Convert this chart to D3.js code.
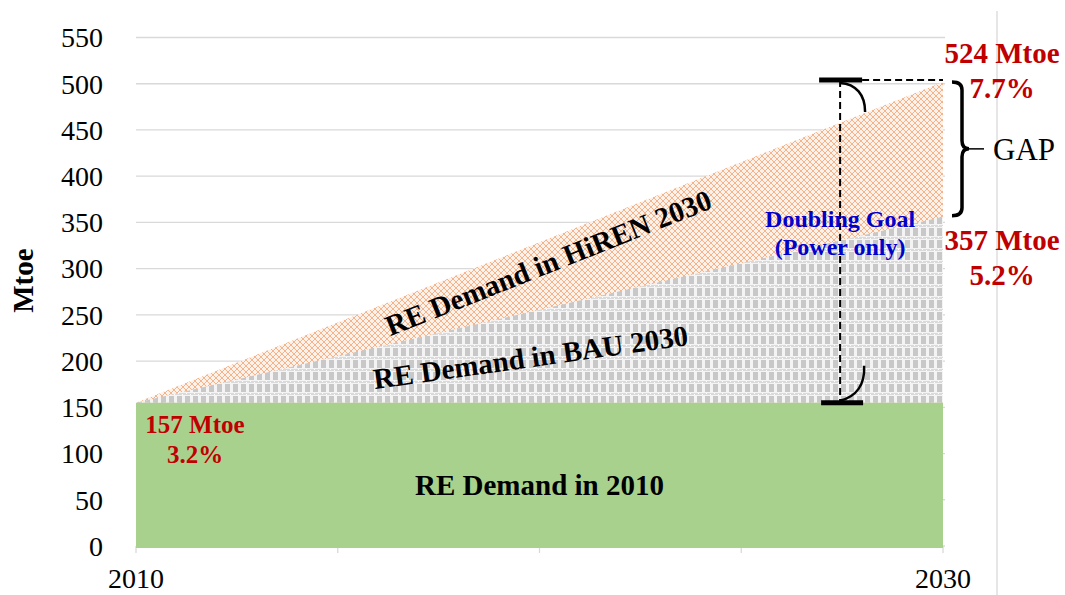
<!DOCTYPE html>
<html>
<head>
<meta charset="utf-8">
<script src="https://cdn.jsdelivr.net/npm/d3@7"></script>
<style>
    body { margin: 0; background: #fff; }
    svg { display: block; font-family: "Liberation Serif", "Times New Roman", serif; }
</style>
</head>
<body>
<div id="d3AreaChart"></div>
<script>
const _WIDTH = 1065
const _HEIGHT = 595
const _MARGIN = {
    top: 37.5,
    left: 136,
    bottom: 49,
    right: 122,
}

// data
const years = [2010, 2030]
const demand2010 = [155, 155]
const demandBAU = [155, 356]
const demandHiREN = [155, 502]
const yTicks = [0, 50, 100, 150, 200, 250, 300, 350, 400, 450, 500, 550]
const xTicks = [2010, 2015, 2020, 2025, 2030]
const xLabels = [2010, 2030]
const doublingYear = 2027.45

const rows = years.map((y, i) => ({ year: y, base: demand2010[i], bau: demandBAU[i], hiren: demandHiREN[i] }))

const svg = d3
    .select("#d3AreaChart")
    .append("svg")
    .attr("width", _WIDTH)
    .attr("height", _HEIGHT)

const xScale = d3.scaleLinear().domain([2010, 2030]).range([_MARGIN.left, _WIDTH - _MARGIN.right])
const yScale = d3.scaleLinear().domain([0, 550]).range([_HEIGHT - _MARGIN.bottom, _MARGIN.top])

//  Patterns
// ===================================
const defs = svg.append("defs")
const orange = defs.append("pattern")
    .attr("id", "pat-orange")
    .attr("patternUnits", "userSpaceOnUse")
    .attr("width", 6)
    .attr("height", 6)
orange.append("rect").attr("width", 6).attr("height", 6).attr("fill", "#fdf2ea")
orange.append("path")
    .attr("d", "M0,0 L6,6 M6,0 L0,6")
    .attr("stroke", "#f5b38c")
    .attr("stroke-width", 1)
const gray = defs.append("pattern")
    .attr("id", "pat-gray")
    .attr("patternUnits", "userSpaceOnUse")
    .attr("width", 8)
    .attr("height", 12)
gray.append("rect").attr("width", 8).attr("height", 12).attr("fill", "#f4f4f4")
gray.append("rect").attr("x", 1).attr("width", 5).attr("height", 8).attr("fill", "#c8c8c8")
gray.append("rect").attr("y", 9).attr("width", 8).attr("height", 2).attr("fill", "#dadada")
gray.append("rect").attr("x", 2).attr("y", 9).attr("width", 1).attr("height", 1).attr("fill", "#ffffff")
gray.append("rect").attr("x", 6).attr("y", 10).attr("width", 1).attr("height", 1).attr("fill", "#ffffff")

//  Grid & axes
// ===================================
svg.append("g")
    .attr("class", "grid")
    .selectAll("line")
    .data(yTicks)
    .join("line")
    .attr("x1", xScale(2010))
    .attr("x2", xScale(2030) + 2)
    .attr("y1", d => yScale(d))
    .attr("y2", d => yScale(d))
    .attr("stroke", "#d9d9d9")
    .attr("stroke-width", 1.3)

svg.append("g")
    .attr("class", "y-axis")
    .selectAll("text")
    .data(yTicks)
    .join("text")
    .attr("x", 103)
    .attr("y", d => yScale(d))
    .attr("dy", "0.35em")
    .attr("text-anchor", "end")
    .attr("font-size", 28)
    .attr("fill", "#000")
    .text(d => d)

svg.append("g")
    .attr("class", "x-ticks")
    .selectAll("line")
    .data(xTicks)
    .join("line")
    .attr("x1", d => xScale(d))
    .attr("x2", d => xScale(d))
    .attr("y1", yScale(0))
    .attr("y2", yScale(0) + 7)
    .attr("stroke", "#d9d9d9")
    .attr("stroke-width", 1.3)

svg.append("g")
    .attr("class", "x-axis")
    .selectAll("text")
    .data(xLabels)
    .join("text")
    .attr("x", d => xScale(d))
    .attr("y", 588)
    .attr("text-anchor", "middle")
    .attr("font-size", 28)
    .text(d => d)

svg.append("text")
    .attr("transform", `translate(33,${yScale(287)})rotate(-90)`)
    .attr("text-anchor", "middle")
    .attr("font-size", 29)
    .attr("font-weight", "bold")
    .text("Mtoe")

// chart frame edge on the right
svg.append("line")
    .attr("x1", 997).attr("x2", 997)
    .attr("y1", 11).attr("y2", _HEIGHT)
    .attr("stroke", "#d9d9d9")
    .attr("stroke-width", 1.3)

//  Areas
// ===================================
svg.append("path")
    .datum(rows)
    .attr("fill", "url(#pat-orange)")
    .attr("d", d3.area().x(d => xScale(d.year)).y0(d => yScale(d.base)).y1(d => yScale(d.hiren)))
svg.append("path")
    .datum(rows)
    .attr("fill", "url(#pat-gray)")
    .attr("d", d3.area().x(d => xScale(d.year)).y0(d => yScale(d.base)).y1(d => yScale(d.bau)))
svg.append("path")
    .datum(rows)
    .attr("fill", "#a9d18e")
    .attr("d", d3.area().x(d => xScale(d.year)).y0(yScale(0) + 2).y1(d => yScale(d.base)))

//  Area labels
// ===================================
svg.append("text")
    .attr("x", xScale(2020)).attr("y", 495)
    .attr("text-anchor", "middle")
    .attr("font-size", 29).attr("font-weight", "bold")
    .text("RE Demand in 2010")
svg.append("text")
    .attr("transform", "translate(552,272)rotate(-21.7)")
    .attr("text-anchor", "middle")
    .attr("font-size", 29).attr("font-weight", "bold")
    .text("RE Demand in HiREN 2030")
svg.append("text")
    .attr("transform", "translate(532,367)rotate(-8)")
    .attr("text-anchor", "middle")
    .attr("font-size", 29).attr("font-weight", "bold")
    .text("RE Demand in BAU 2030")

//  Doubling goal marker
// ===================================
const xg = xScale(doublingYear)
const yTop = yScale(demandHiREN[1]) - 2
const yBot = yScale(demand2010[0])
const marker = svg.append("g").attr("class", "doubling").attr("fill", "none").attr("stroke", "#000")
marker.append("line")
    .attr("x1", xg).attr("x2", xg).attr("y1", yTop).attr("y2", yBot)
    .attr("stroke-width", 2).attr("stroke-dasharray", "7,4")
marker.append("line")
    .attr("x1", xg + 22).attr("x2", xScale(2030)).attr("y1", yTop).attr("y2", yTop)
    .attr("stroke-width", 2).attr("stroke-dasharray", "7,4")
marker.append("line")
    .attr("x1", xg - 21).attr("x2", xg + 22).attr("y1", yTop).attr("y2", yTop)
    .attr("stroke-width", 5)
marker.append("line")
    .attr("x1", xg - 19).attr("x2", xg + 23).attr("y1", yBot).attr("y2", yBot)
    .attr("stroke-width", 5)
marker.append("path")
    .attr("d", `M${xg},${yTop + 3} C${xg + 16},${yTop + 4} ${xg + 25},${yTop + 15} ${xg + 25},${yTop + 32}`)
    .attr("stroke-width", 2.5)
marker.append("path")
    .attr("d", `M${xg},${yBot - 2} C${xg + 16},${yBot - 6} ${xg + 25},${yBot - 18} ${xg + 24},${yBot - 37}`)
    .attr("stroke-width", 2.5)

svg.append("text")
    .attr("x", xg).attr("y", 227)
    .attr("text-anchor", "middle")
    .attr("font-size", 24).attr("font-weight", "bold").attr("fill", "#0000cc")
    .text("Doubling Goal")
svg.append("text")
    .attr("x", xg).attr("y", 255)
    .attr("text-anchor", "middle")
    .attr("font-size", 24).attr("font-weight", "bold").attr("fill", "#0000cc")
    .text("(Power only)")

//  GAP brace
// ===================================
const bx = xScale(2030) + 19
const bTop = yScale(demandHiREN[1])
const bBot = yScale(demandBAU[1]) - 1
const bMid = (bTop + bBot) / 2
svg.append("path")
    .attr("fill", "none").attr("stroke", "#000").attr("stroke-width", 3.5)
    .attr("d", `M${bx - 10},${bTop} Q${bx},${bTop} ${bx},${bTop + 8} L${bx},${bMid - 8} Q${bx},${bMid} ${bx + 7},${bMid}
        Q${bx},${bMid} ${bx},${bMid + 8} L${bx},${bBot - 8} Q${bx},${bBot} ${bx - 10},${bBot}`)
svg.append("line")
    .attr("x1", bx + 6).attr("x2", bx + 22).attr("y1", bMid).attr("y2", bMid)
    .attr("stroke", "#000").attr("stroke-width", 1.5)
svg.append("text")
    .attr("x", 993).attr("y", bMid + 11)
    .attr("font-size", 31)
    .text("GAP")

//  Value callouts
// ===================================
const callouts = [
    { x: 195, y: 433, size: 25, lines: ["157 Mtoe", "3.2%"], gap: 30 },
    { x: 1002, y: 63, size: 29, lines: ["524 Mtoe", "7.7%"], gap: 35 },
    { x: 1002, y: 250, size: 29, lines: ["357 Mtoe", "5.2%"], gap: 35 },
]
callouts.forEach(c => {
    svg.append("g")
        .selectAll("text")
        .data(c.lines)
        .join("text")
        .attr("x", c.x)
        .attr("y", (d, i) => c.y + i * c.gap)
        .attr("text-anchor", "middle")
        .attr("font-size", c.size)
        .attr("font-weight", "bold")
        .attr("fill", "#c00000")
        .text(d => d)
})
</script>
</body>
</html>
